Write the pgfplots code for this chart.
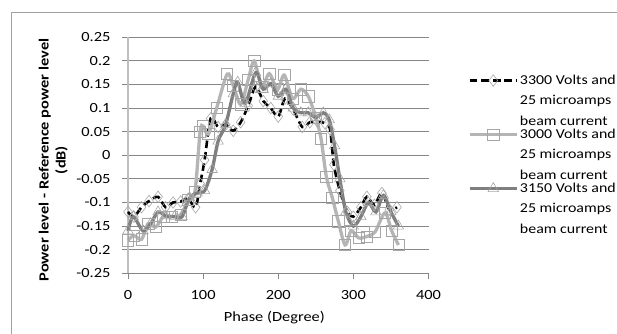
\documentclass[border=0pt]{standalone}
\usepackage{fontspec}
\setmainfont{Carlito}[FakeStretch=1.17]
\usepackage{pgfplots}
\pgfplotsset{compat=1.18}
\definecolor{lgray}{HTML}{B5B5B5}
\definecolor{dgray}{HTML}{7F7F7F}
\definecolor{gridc}{HTML}{868686}
\definecolor{yaxc}{HTML}{BFBFBF}
\definecolor{framec}{HTML}{A0A0A0}
\definecolor{markc}{HTML}{A6A6A6}
\tikzset{lA/.style={text height=10bp, text depth=3bp, inner sep=0pt},
         lB/.style={text height=17.5bp, text depth=3bp, inner sep=0pt}}
\begin{document}
\begin{tikzpicture}
\useasboundingbox (0,0) rectangle (617bp,334bp);
\draw[framec, line width=1.3bp] (11.7bp,-10bp) -- (11.7bp,321.3bp) -- (640bp,321.3bp);
\begin{axis}[
  at={(128bp,60.7bp)}, anchor=south west,
  scale only axis, width=300.5bp, height=236bp,
  xmin=0, xmax=400, ymin=-0.25, ymax=0.25,
  axis x line*=bottom, axis y line*=left,
  x axis line style={draw=gridc, line width=0.9bp, -},
  y axis line style={draw=yaxc, line width=1.2bp, -},
  xtick={0,100,200,300,400},
  xticklabels={0,100,200,300,400},
  ytick={-0.25,-0.2,-0.15,-0.1,-0.05,0,0.05,0.1,0.15,0.2,0.25},
  yticklabels={-0.25,-0.2,-0.15,-0.1,-0.05,0,0.05,0.1,0.15,0.2,0.25},
  tick align=outside, major tick length=6bp,
  tick style={draw=gridc, line width=0.9bp},
  ymajorgrids, grid style={draw=gridc, line width=0.9bp},
  ticklabel style={font=\fontsize{14bp}{17bp}\selectfont},
  xticklabel style={yshift=-8bp},
  yticklabel style={xshift=-8bp},
  xlabel={Phase (Degree)},
  xlabel style={font=\fontsize{14bp}{17bp}\selectfont, at={(axis description cs:0.487,-0.186)}, anchor=center},
  ylabel={Power level - Reference power level\\(dB)},
  ylabel style={font=\fontsize{14bp}{17bp}\selectfont\bfseries, align=center, at={(axis description cs:-0.2486,0.48)}, anchor=center, rotate=0},
  legend style={draw=none, fill=none, inner sep=0pt, column sep=1.5bp, row sep=0pt,
    at={(axis description cs:1.1314,0.845)}, anchor=north west,
    font=\fontsize{13.6bp}{17bp}\selectfont, nodes={inner sep=0pt}},
  legend cell align=left,
  legend image code/.code={\path (0bp,0bp) -- (47bp,0bp);\draw[overlay,mark repeat=2,mark phase=2,#1] plot coordinates {(0bp,0bp) (23.5bp,0bp) (47bp,0bp)};},
  clip=false,
]
\addplot[black, line width=2.6bp, dash pattern=on 7.5bp off 4bp, smooth, tension=0.5,
  mark=diamond, mark size=5.8bp, mark options={solid, draw=markc, fill=white, line width=0.6bp}]
  coordinates {
  (0,-0.12) (8,-0.13) (18,-0.11) (28,-0.097) (40,-0.088) (50,-0.11) (60,-0.10) (70,-0.098)
  (80,-0.092) (90,-0.11) (96,-0.06) (102,-0.01) (110,0.078) (120,0.06) (130,0.065) (140,0.052)
  (150,0.07) (160,0.105) (170,0.145) (180,0.115) (190,0.10) (200,0.082) (209,0.12) (220,0.097)
  (232,0.06) (242,0.07) (252,0.072) (262,0.068) (269,0.055) (274,-0.02) (282,-0.075) (292,-0.12)
  (300,-0.13) (310,-0.11) (318,-0.088) (328,-0.105) (338,-0.08) (348,-0.115) (358,-0.11)
  };
\addlegendentry[lA]{3300 Volts and}
\addlegendimage{empty legend}\addlegendentry[lB]{25 microamps}
\addlegendimage{empty legend}\addlegendentry[lB]{beam current}
\addplot[lgray, line width=3.3bp, smooth, tension=0.5,
  mark=square, mark size=5.6bp, mark options={draw=markc, line width=0.6bp}]
  coordinates {
  (0,-0.18) (8,-0.17) (18,-0.178) (27,-0.145) (37,-0.152) (47,-0.13) (58,-0.13) (70,-0.126)
  (80,-0.095) (89,-0.078) (96,0.05) (100,0.062) (107,0.045) (118,0.10) (132,0.172) (140,0.148)
  (150,0.108) (160,0.16) (168,0.2) (178,0.145) (188,0.173) (199,0.14) (208,0.17) (219,0.12)
  (230,0.14) (240,0.125) (250,0.08) (257,0.035) (264,-0.045) (272,-0.09) (280,-0.14) (289,-0.19)
  (297,-0.16) (307,-0.175) (318,-0.172) (329,-0.162) (342,-0.122) (351,-0.16) (360,-0.19)
  };
\addlegendentry[lA]{3000 Volts and}
\addlegendimage{empty legend}\addlegendentry[lB]{25 microamps}
\addlegendimage{empty legend}\addlegendentry[lB]{beam current}
\addplot[dgray, line width=3.3bp, smooth, tension=0.5,
  mark=triangle, mark size=6bp, mark options={draw=markc, line width=0.6bp}]
  coordinates {
  (0,-0.16) (7,-0.13) (20,-0.16) (30,-0.145) (40,-0.12) (50,-0.128) (62,-0.13) (72,-0.13)
  (82,-0.09) (92,-0.08) (102,-0.075) (112,-0.03) (120,0.03) (130,0.065) (140,0.13) (146,0.155)
  (156,0.11) (170,0.175) (180,0.14) (190,0.152) (200,0.125) (210,0.14) (220,0.1) (230,0.09)
  (240,0.09) (250,0.08) (260,0.09) (268,0.075) (275,0.02) (282,-0.05) (290,-0.12) (300,-0.15)
  (310,-0.13) (320,-0.1) (330,-0.12) (340,-0.085) (350,-0.12) (360,-0.15)
  };
\addlegendentry[lA]{3150 Volts and}
\addlegendimage{empty legend}\addlegendentry[lB]{25 microamps}
\addlegendimage{empty legend}\addlegendentry[lB]{beam current}
\end{axis}
\end{tikzpicture}
\end{document}
